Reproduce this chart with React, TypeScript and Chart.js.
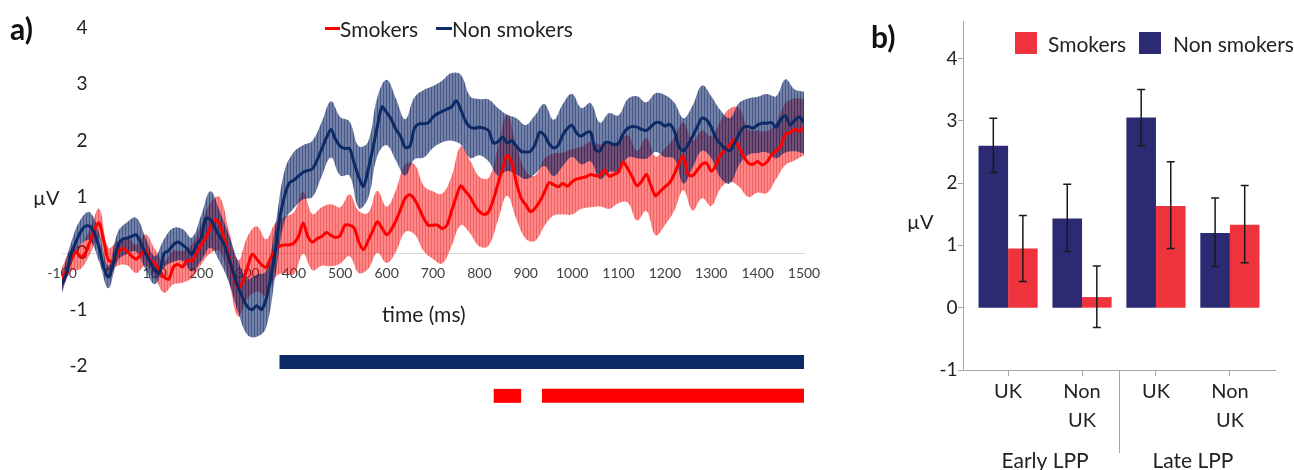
import React, { useEffect, useRef } from "react";
import { Chart, registerables } from "chart.js";

Chart.register(...registerables);

const FONT = "Lato, 'Open Sans', sans-serif";

// ---------- Panel a: ERP waveforms (µV), sampled every 10 ms from -100 ms ----------
const startMs = -100;
const meanStepMs = 10;
const bandStepMs = 20;

const nonSmokersMean = [
  -0.55, -0.35, 0.0, 0.2, 0.38, 0.48, 0.48, 0.35, 0.1, -0.25, // -100..-10
  -0.42, -0.2, 0.12, 0.25, 0.27, 0.3, 0.33, 0.18, 0.0, -0.15, // 0..90
  -0.3, -0.35, 0.0, 0.05, 0.15, 0.2, 0.15, 0.08, -0.02, 0.15, // 100..190
  0.27, 0.62, 0.6, 0.45, 0.3, 0.15, -0.1, -0.35, -0.6, -0.8, // 200..290
  -0.95, -1.0, -0.93, -1.0, -0.82, -0.44, 0.05, 0.65, 1.02, 1.25, // 300..390
  1.3, 1.37, 1.44, 1.47, 1.5, 1.65, 1.85, 2.05, 2.2, 2.02, // 400..490
  1.9, 1.86, 1.86, 1.6, 1.35, 1.19, 1.48, 1.85, 2.25, 2.6, // 500..590
  2.5, 2.38, 2.2, 2.08, 1.88, 1.9, 2.22, 2.3, 2.3, 2.32, // 600..690
  2.42, 2.48, 2.52, 2.56, 2.6, 2.71, 2.55, 2.35, 2.24, 2.22, // 700..790
  2.24, 2.22, 2.18, 1.96, 1.98, 2.06, 1.96, 2.0, 1.9, 1.81, // 800..890
  1.8, 1.81, 1.93, 2.15, 2.1, 1.95, 1.87, 1.92, 2.1, 2.22, // 900..990
  2.27, 2.13, 2.08, 2.14, 2.15, 1.84, 1.82, 1.96, 1.97, 1.93, // 1000..1090
  1.95, 2.12, 2.22, 2.25, 2.24, 2.2, 2.18, 2.25, 2.32, 2.32, // 1100..1190
  2.26, 2.29, 2.18, 1.9, 1.82, 1.93, 2.08, 2.25, 2.4, 2.37, // 1200..1290
  2.24, 2.05, 1.94, 1.86, 1.82, 1.95, 2.12, 2.24, 2.25, 2.22, // 1300..1390
  2.28, 2.31, 2.31, 2.32, 2.24, 2.38, 2.44, 2.28, 2.36, 2.42, // 1400..1490
  2.32, // 1500
];

const smokersMean = [
  -0.45, -0.3, -0.12, 0.03, -0.06, 0.0, 0.2, 0.42, 0.54, 0.22, // -100..-10
  -0.12, -0.15, 0.0, 0.09, 0.04, -0.05, -0.1, -0.03, 0.06, -0.12, // 0..90
  -0.17, -0.3, -0.42, -0.46, -0.25, -0.2, -0.24, -0.12, -0.14, 0.0, // 100..190
  0.15, 0.28, 0.45, 0.6, 0.52, 0.25, -0.05, -0.38, -0.62, -0.5, // 200..290
  -0.25, -0.02, -0.1, -0.2, -0.25, -0.08, 0.06, 0.13, 0.15, 0.15, // 300..390
  0.18, 0.3, 0.54, 0.3, 0.2, 0.26, 0.3, 0.37, 0.32, 0.28, // 400..490
  0.32, 0.5, 0.5, 0.45, 0.2, 0.07, 0.22, 0.4, 0.56, 0.45, // 500..590
  0.33, 0.42, 0.58, 0.78, 0.98, 1.04, 0.96, 0.8, 0.62, 0.5, // 600..690
  0.5, 0.5, 0.44, 0.5, 0.75, 1.0, 1.2, 1.1, 1.0, 0.85, // 700..790
  0.74, 0.69, 0.74, 0.95, 1.23, 1.5, 1.74, 1.6, 1.25, 0.98, // 800..890
  0.86, 0.74, 0.8, 0.92, 1.08, 1.25, 1.22, 1.18, 1.24, 1.19, // 900..990
  1.27, 1.32, 1.34, 1.36, 1.4, 1.38, 1.38, 1.48, 1.37, 1.4, // 1000..1090
  1.44, 1.62, 1.5, 1.35, 1.2, 1.28, 1.4, 1.2, 1.02, 1.1, // 1100..1190
  1.18, 1.25, 1.4, 1.6, 1.72, 1.4, 1.38, 1.48, 1.58, 1.6, // 1200..1290
  1.46, 1.56, 1.75, 1.83, 1.92, 2.02, 1.88, 1.72, 1.6, 1.58, // 1300..1390
  1.63, 1.57, 1.62, 1.75, 1.82, 1.9, 2.12, 2.14, 2.2, 2.17, // 1400..1490
  2.24, // 1500
];

// half-width of the shaded band, every 20 ms from -100 ms
const nonSmokersSE = [
  0.15, 0.2, 0.22, 0.25, 0.25, 0.2, 0.25, 0.28, 0.3, 0.28, // -100..80
  0.25, 0.25, 0.3, 0.28, 0.3, 0.4, 0.5, 0.45, 0.42, 0.45, // 100..280
  0.5, 0.55, 0.5, 0.45, 0.45, 0.5, 0.48, 0.5, 0.48, 0.5, // 300..480
  0.52, 0.48, 0.55, 0.5, 0.52, 0.58, 0.55, 0.5, 0.55, 0.6, // 500..680
  0.55, 0.55, 0.6, 0.62, 0.55, 0.5, 0.55, 0.6, 0.5, 0.5, // 700..880
  0.48, 0.52, 0.55, 0.5, 0.55, 0.56, 0.5, 0.52, 0.5, 0.52, // 900..1080
  0.5, 0.52, 0.55, 0.5, 0.52, 0.55, 0.5, 0.58, 0.55, 0.58, // 1100..1280
  0.55, 0.6, 0.58, 0.55, 0.5, 0.5, 0.52, 0.55, 0.65, 0.55, // 1300..1480
  0.55, // 1500
];

const smokersSE = [
  0.2, 0.2, 0.22, 0.22, 0.25, 0.22, 0.22, 0.25, 0.25, 0.28, // -100..80
  0.25, 0.28, 0.3, 0.28, 0.3, 0.35, 0.45, 0.48, 0.45, 0.5, // 100..280
  0.55, 0.58, 0.5, 0.48, 0.5, 0.55, 0.55, 0.5, 0.52, 0.55, // 300..480
  0.5, 0.55, 0.55, 0.5, 0.55, 0.5, 0.55, 0.6, 0.62, 0.58, // 500..680
  0.6, 0.62, 0.62, 0.7, 0.65, 0.62, 0.6, 0.65, 0.72, 0.65, // 700..880
  0.6, 0.58, 0.6, 0.55, 0.55, 0.58, 0.55, 0.58, 0.55, 0.58, // 900..1080
  0.55, 0.6, 0.62, 0.65, 0.7, 0.68, 0.65, 0.6, 0.62, 0.6, // 1100..1280
  0.62, 0.6, 0.65, 0.7, 0.6, 0.55, 0.55, 0.5, 0.55, 0.55, // 1300..1480
  0.5, // 1500
];

// significance windows (ms) and the µV level at which their bars sit
const nonSmokersSigWindows = [[369, 1500]];
const smokersSigWindows = [[831, 890], [935, 1500]];
const nonSmokersSigLevel = -1.93;
const smokersSigLevel = -2.53;

const timeRange = [-100, 1500];
const timeTickStep = 100;
const voltRangeA = [-2, 4];

// ---------- Panel b: mean LPP amplitude (µV) ----------
const categoryLabels = [["UK"], ["Non", "UK"], ["UK"], ["Non", "UK"]];
const groupLabels = ["Early LPP", "Late LPP"];
const nonSmokersBar = [2.6, 1.43, 3.05, 1.2];
const nonSmokersErrLow = [2.17, 0.9, 2.6, 0.66];
const nonSmokersErrHigh = [3.04, 1.98, 3.5, 1.76];
const smokersBar = [0.95, 0.17, 1.63, 1.33];
const smokersErrLow = [0.42, -0.32, 0.95, 0.72];
const smokersErrHigh = [1.48, 0.67, 2.34, 1.96];
const voltRangeB = [-1, 4.6];
const categoryRangeB = [-0.61, 3.61];

const RED_LINE = "#ff0000";
const NAVY_LINE = "#0b2a66";
const RED_BAR = "#ee333d";
const NAVY_BAR = "#2b2a72";
const AXIS_GREY = "#a6a6a6";

function meanPoints(values: number[]) {
  return values.map((v, i) => ({ x: startMs + i * meanStepMs, y: v }));
}

function bandPoints(mean: number[], se: number[], sign: number) {
  const ratio = bandStepMs / meanStepMs;
  return se.map((s, i) => ({ x: startMs + i * bandStepMs, y: mean[i * ratio] + sign * s }));
}

function sigPoints(win: number[], level: number) {
  return win.map((t) => ({ x: t, y: level }));
}

function stripePattern(base: string, dark: string): CanvasPattern | string {
  const c = document.createElement("canvas");
  c.width = 3;
  c.height = 4;
  const g = c.getContext("2d");
  if (!g) return base;
  g.fillStyle = base;
  g.fillRect(0, 0, 2, 4);
  g.fillStyle = dark;
  g.fillRect(2, 0, 1, 4);
  const p = g.createPattern(c, "repeat");
  return p || base;
}

const errorBarPlugin = {
  id: "errorBars",
  afterDatasetsDraw(chart: any) {
    const { ctx } = chart;
    const y = chart.scales.y;
    chart.data.datasets.forEach((ds: any, i: number) => {
      const meta = chart.getDatasetMeta(i);
      meta.data.forEach((bar: any, j: number) => {
        const top = y.getPixelForValue(ds.errHigh[j]);
        const bot = y.getPixelForValue(ds.errLow[j]);
        ctx.save();
        ctx.strokeStyle = "#1a1a1a";
        ctx.lineWidth = 1.5;
        ctx.beginPath();
        ctx.moveTo(bar.x, top);
        ctx.lineTo(bar.x, bot);
        ctx.moveTo(bar.x - 4, top);
        ctx.lineTo(bar.x + 4, top);
        ctx.moveTo(bar.x - 4, bot);
        ctx.lineTo(bar.x + 4, bot);
        ctx.stroke();
        ctx.restore();
      });
    });
  },
};

const groupPlugin = {
  id: "groupLabels",
  afterDraw(chart: any) {
    const { ctx, chartArea } = chart;
    const x = chart.scales.x;
    ctx.save();
    const divX = Math.round(x.getPixelForValue(1.5)) + 0.5;
    ctx.strokeStyle = AXIS_GREY;
    ctx.lineWidth = 1;
    ctx.beginPath();
    ctx.moveTo(divX, chartArea.bottom);
    ctx.lineTo(divX, chartArea.bottom + 83);
    ctx.stroke();
    ctx.font = `21px ${FONT}`;
    ctx.fillStyle = "#222";
    ctx.textAlign = "center";
    ctx.textBaseline = "alphabetic";
    groupLabels.forEach((g, k) => {
      ctx.fillText(g, x.getPixelForValue(k * 2 + 0.5), chartArea.bottom + 98);
    });
    ctx.restore();
  },
};

const abs = (left: number, top: number, extra: any = {}) => ({
  position: "absolute" as const,
  left,
  top,
  whiteSpace: "nowrap" as const,
  lineHeight: 1,
  ...extra,
});

export default function App() {
  const refA = useRef<HTMLCanvasElement | null>(null);
  const refB = useRef<HTMLCanvasElement | null>(null);

  useEffect(() => {
    if (!refA.current || !refB.current) return;
    const redPat = stripePattern("rgba(255,0,0,0.47)", "rgba(225,0,0,0.62)");
    const navyPat = stripePattern("rgba(5,30,97,0.56)", "rgba(5,30,97,0.74)");

    const band = (data: any[], fill: any, bg: any, order: number) => ({
      data,
      fill,
      backgroundColor: bg,
      borderColor: "transparent",
      borderWidth: 0,
      pointRadius: 0,
      tension: 0.4,
      order,
    });

    const sigSets = [
      ...nonSmokersSigWindows.map((w) => ({ w, level: nonSmokersSigLevel, color: NAVY_LINE })),
      ...smokersSigWindows.map((w) => ({ w, level: smokersSigLevel, color: RED_LINE })),
    ].map((s) => ({
      data: sigPoints(s.w, s.level),
      borderColor: s.color,
      borderWidth: 14,
      borderCapStyle: "butt" as const,
      pointRadius: 0,
      fill: false,
      clip: false as any,
      order: 0,
    }));

    const chartA = new Chart(refA.current, {
      type: "line",
      data: {
        datasets: [
          band(bandPoints(smokersMean, smokersSE, 1), 1, redPat, 5),
          band(bandPoints(smokersMean, smokersSE, -1), false, "transparent", 5),
          band(bandPoints(nonSmokersMean, nonSmokersSE, 1), 3, navyPat, 4),
          band(bandPoints(nonSmokersMean, nonSmokersSE, -1), false, "transparent", 4),
          {
            label: "Smokers",
            data: meanPoints(smokersMean),
            borderColor: RED_LINE,
            borderWidth: 3,
            pointRadius: 0,
            tension: 0.3,
            fill: false,
            order: 2,
          },
          {
            label: "Non smokers",
            data: meanPoints(nonSmokersMean),
            borderColor: NAVY_LINE,
            borderWidth: 3,
            pointRadius: 0,
            tension: 0.3,
            fill: false,
            order: 1,
          },
          ...sigSets,
        ] as any,
      },
      options: {
        responsive: false,
        animation: false,
        events: [],
        layout: { padding: { left: 62, right: 56, top: 28, bottom: 104 } },
        plugins: { legend: { display: false }, tooltip: { enabled: false } },
        scales: {
          x: {
            type: "linear",
            min: timeRange[0],
            max: timeRange[1],
            position: { y: 0 } as any,
            ticks: {
              stepSize: timeTickStep,
              font: { family: FONT, size: 14 },
              color: "#404040",
              padding: 12,
              maxRotation: 0,
              autoSkip: false,
              callback: (v: any) => String(v),
            },
            grid: { display: true, drawOnChartArea: false, drawTicks: false },
            border: { display: true, color: "#d9d9d9", width: 1 },
          },
          y: {
            type: "linear",
            min: voltRangeA[0],
            max: voltRangeA[1],
            position: { x: -45 } as any,
            ticks: { stepSize: 1, font: { family: FONT, size: 19 }, color: "#222", padding: 2 },
            grid: { display: false, drawTicks: false },
            border: { display: false },
          },
        },
      },
    });

    const chartB = new Chart(refB.current, {
      type: "bar",
      data: {
        datasets: [
          {
            label: "Non smokers",
            data: nonSmokersBar.map((v, i) => ({ x: i, y: v })),
            backgroundColor: NAVY_BAR,
            categoryPercentage: 0.8,
            barPercentage: 1.0,
            errLow: nonSmokersErrLow,
            errHigh: nonSmokersErrHigh,
          },
          {
            label: "Smokers",
            data: smokersBar.map((v, i) => ({ x: i, y: v })),
            backgroundColor: RED_BAR,
            categoryPercentage: 0.8,
            barPercentage: 1.0,
            errLow: smokersErrLow,
            errHigh: smokersErrHigh,
          },
        ] as any,
      },
      options: {
        responsive: false,
        animation: false,
        events: [],
        layout: { padding: { left: 103, right: 19, top: 21, bottom: 100 } },
        plugins: { legend: { display: false }, tooltip: { enabled: false } },
        scales: {
          x: {
            type: "linear",
            min: categoryRangeB[0],
            max: categoryRangeB[1],
            offset: false,
            position: { y: voltRangeB[0] } as any,
            ticks: {
              stepSize: 1,
              includeBounds: false,
              autoSkip: false,
              maxRotation: 0,
              padding: 2,
              font: { family: FONT, size: 20, lineHeight: 1.45 },
              color: "#222",
              callback: (v: any) => categoryLabels[Math.round(Number(v))] ?? "",
            },
            grid: {
              display: true,
              offset: false,
              drawOnChartArea: false,
              drawTicks: true,
              tickLength: 5,
              color: AXIS_GREY,
            },
            border: { display: true, color: AXIS_GREY, width: 1 },
          },
          // value axis carrying the labels, set just left of the axis line
          y: {
            type: "linear",
            min: voltRangeB[0],
            max: voltRangeB[1],
            position: { x: categoryRangeB[0] - 0.075 } as any,
            ticks: {
              stepSize: 1,
              includeBounds: false,
              padding: 0,
              font: { family: FONT, size: 19 },
              color: "#222",
            },
            grid: { display: false, drawTicks: false },
            border: { display: false },
          },
          // same value range: draws the axis line and its tick marks
          yLine: {
            type: "linear",
            min: voltRangeB[0],
            max: voltRangeB[1],
            position: { x: categoryRangeB[0] } as any,
            ticks: { stepSize: 1, includeBounds: false, display: false },
            grid: { display: true, drawOnChartArea: false, drawTicks: true, tickLength: 5, color: AXIS_GREY },
            border: { display: true, color: AXIS_GREY, width: 1 },
          },
        },
      },
      plugins: [errorBarPlugin, groupPlugin],
    });

    return () => {
      chartA.destroy();
      chartB.destroy();
    };
  }, []);

  return (
    <div
      style={{
        position: "absolute",
        left: 0,
        top: 0,
        width: 1294,
        height: 470,
        overflow: "hidden",
        background: "#fff",
        fontFamily: FONT,
        color: "#222",
      }}
    >
      <canvas ref={refA} width={860} height={470} style={{ position: "absolute", left: 0, top: 0 }} />
      <canvas ref={refB} width={434} height={470} style={{ position: "absolute", left: 860, top: 0 }} />

      {/* panel a annotations */}
      <div style={abs(10, 13, { fontSize: 30, fontWeight: 700, color: "#111" })}>a)</div>
      <div style={abs(33, 187, { fontSize: 20 })}>µV</div>
      <div style={abs(382, 303, { fontSize: 21 })}>time (ms)</div>
      <div style={abs(325, 27, { width: 15, height: 3, background: RED_LINE })} />
      <div style={abs(340, 18, { fontSize: 21 })}>Smokers</div>
      <div style={abs(436, 27, { width: 16, height: 3, background: NAVY_LINE })} />
      <div style={abs(452, 18, { fontSize: 21 })}>Non smokers</div>

      {/* panel b annotations */}
      <div style={abs(871, 21, { fontSize: 30, fontWeight: 700, color: "#111" })}>b)</div>
      <div style={abs(907, 211, { fontSize: 20 })}>µV</div>
      <div style={abs(1015, 32, { width: 22, height: 22, background: RED_BAR })} />
      <div style={abs(1048, 33, { fontSize: 21 })}>Smokers</div>
      <div style={abs(1139, 32, { width: 22, height: 22, background: NAVY_BAR })} />
      <div style={abs(1173, 33, { fontSize: 21 })}>Non smokers</div>
    </div>
  );
}
